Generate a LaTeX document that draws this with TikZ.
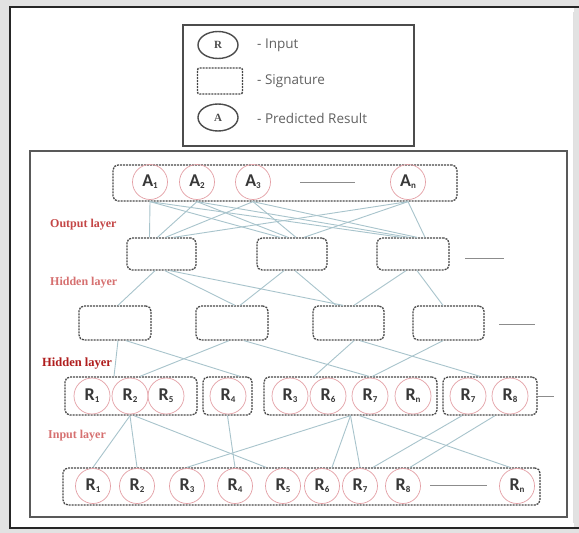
\documentclass[tikz,border=0pt]{standalone}
\usepackage{fontspec}
\setmainfont{Liberation Serif}
\setsansfont{Carlito}
\newfontfamily\keyfont{Open Sans}
\usetikzlibrary{calc,shapes.geometric}
\definecolor{linkc}{RGB}{168,196,204}
\definecolor{ringc}{RGB}{228,160,166}
\definecolor{labred}{RGB}{196,70,70}
\definecolor{labpale}{RGB}{214,112,112}
\definecolor{labdark}{RGB}{176,30,30}
\definecolor{frameg}{RGB}{226,226,226}
\newcommand{\lowidx}[1]{\raisebox{-0.25ex}{\fontsize{9}{9}\selectfont #1}}
\begin{document}
\begin{tikzpicture}[x=1pt,y=-1pt,
  sig/.style={draw=black!72, line width=1.3pt, dash pattern=on 2pt off 1pt,
    rounded corners=5pt, inner sep=0pt, fill=white},
  unit/.style={circle, draw=ringc, line width=0.7pt, minimum size=35pt, inner sep=0pt,
    font=\sffamily\bfseries\fontsize{18}{18}\selectfont, text=black!78},
  link/.style={draw=linkc, line width=0.9pt},
  more/.style={draw=black!45, line width=0.8pt},
  layer/.style={font=\bfseries\fontsize{12}{12}\selectfont, anchor=west, inner sep=0pt},
  key/.style={ellipse, draw=black!70, line width=1.4pt, minimum width=40pt, minimum height=27pt,
    inner sep=0pt, font=\bfseries\fontsize{11}{11}\selectfont, text=black!70},
  keytext/.style={anchor=west, inner sep=0pt, font=\keyfont\fontsize{13.5}{13.5}\selectfont, text=black!62}]
\useasboundingbox (0,0) rectangle (579,533);
% page background and outer frame
\fill[frameg] (0,0) rectangle (579,533);
\fill[white] (10,7) rectangle (574,528);
\draw[black!85, line width=2pt] (579,7) -- (10,7) -- (10,528) -- (579,528);
\draw[black!12, line width=0.6pt] (573,12) -- (573,523);

% legend
\node[draw=black!70, line width=1.6pt, minimum width=231pt, minimum height=121pt, inner sep=0pt]
  (legend) at (298.5,85.5) {};
\node[key] (kR) at (218,45) {R};
\node[keytext] (kRt) at (257,45) {- Input};
\node[sig, line width=1.4pt, rounded corners=2pt, minimum width=45pt, minimum height=26pt] (kS) at (220,81) {};
\node[keytext] (kSt) at (257,81) {- Signature};
\node[key] (kA) at (218,117.5) {A};
\node[keytext] (kAt) at (257,118) {- Predicted Result};

% diagram frame
\node[draw=black!65, line width=1.4pt, minimum width=537pt, minimum height=366pt, inner sep=0pt]
  (net) at (298.5,334) {};

% signature boxes
\node[sig, minimum width=344pt, minimum height=36pt] (top) at (285,183) {};
\node[sig, minimum width=69pt, minimum height=32pt] (h1a) at (161.5,254) {};
\node[sig, minimum width=70pt, minimum height=32pt] (h1b) at (292,254) {};
\node[sig, minimum width=72pt, minimum height=32pt] (h1c) at (413,254) {};
\node[sig, minimum width=72pt, minimum height=34pt] (h2a) at (115,323) {};
\node[sig, minimum width=72pt, minimum height=34pt] (h2b) at (232,323) {};
\node[sig, minimum width=71pt, minimum height=34pt] (h2c) at (348.5,323) {};
\node[sig, minimum width=71pt, minimum height=34pt] (h2d) at (448.5,323) {};
\node[sig, minimum width=132pt, minimum height=38pt] (g1) at (131,396) {};
\node[sig, minimum width=49pt, minimum height=38pt] (g2) at (227.5,396) {};
\node[sig, minimum width=173pt, minimum height=38pt] (g3) at (350.5,396) {};
\node[sig, minimum width=94pt, minimum height=38pt] (g4) at (490,396) {};
\node[sig, minimum width=477pt, minimum height=37pt] (bot) at (301.5,486.5) {};

% predicted results
\node[unit] (A1) at (150,182) {A\lowidx{1}};
\node[unit] (A2) at (197,182) {A\lowidx{2}};
\node[unit] (A3) at (253,182) {A\lowidx{3}};
\node[unit] (An) at (408,182) {A\lowidx{n}};
\coordinate (topdotsL) at (300,182);
\coordinate (topdotsR) at (355,182);
\draw[more] (topdotsL) -- (topdotsR);

% grouped inputs
\node[unit, minimum size=36pt] (r1) at (92,396) {R\lowidx{1}};
\node[unit, minimum size=36pt] (r2) at (130,396) {R\lowidx{2}};
\node[unit, minimum size=36pt] (r5) at (166,396) {R\lowidx{5}};
\node[unit, minimum size=36pt] (r4) at (228,396) {R\lowidx{4}};
\node[unit, minimum size=36pt] (r3) at (290,396) {R\lowidx{3}};
\node[unit, minimum size=36pt] (r6) at (328,396) {R\lowidx{6}};
\node[unit, minimum size=36pt] (r7) at (370,396) {R\lowidx{7}};
\node[unit, minimum size=36pt] (rn) at (413,396) {R\lowidx{n}};
\node[unit, minimum size=36pt] (r7b) at (468,396) {R\lowidx{7}};
\node[unit, minimum size=36pt] (r8) at (510,396) {R\lowidx{8}};

% input row
\node[unit] (b1) at (93,486) {R\lowidx{1}};
\node[unit] (b2) at (137,486) {R\lowidx{2}};
\node[unit] (b3) at (187,486) {R\lowidx{3}};
\node[unit] (b4) at (235,486) {R\lowidx{4}};
\node[unit] (b5) at (283,486) {R\lowidx{5}};
\node[unit] (b6) at (322,486) {R\lowidx{6}};
\node[unit] (b7) at (360,486) {R\lowidx{7}};
\node[unit] (b8) at (403,486) {R\lowidx{8}};
\node[unit] (bn) at (517,486) {R\lowidx{n}};
\coordinate (botdotsL) at (430,485);
\coordinate (botdotsR) at (487,485);
\draw[more] (botdotsL) -- (botdotsR);

% continuation marks
\coordinate (h1more) at (465,258);
\draw[more] (h1more) -- ++(39,0);
\coordinate (h2more) at (499,324);
\draw[more] (h2more) -- ++(36,0);
\coordinate (gmore) at (g4.east);
\draw[more] (gmore) -- ++(16,0);

% output layer links
\foreach \a/\o in {A1/-12,A2/-4,A3/4,An/12}{
  \foreach \h in {h1a,h1b,h1c}{
    \draw[link] (\a |- top.south) -- ($(\h.north)+(\o,0)$);
  }
}
% hidden links
\draw[link] ($(h1a.south)+(-6.5,0)$) -- ($(h2a.north)+(3,0)$);
\draw[link] ($(h1a.south)+(3.5,0)$) -- ($(h2b.north)+(3,0)$);
\draw[link] ($(h1a.south)+(8.5,0)$) -- ($(h2c.north)+(-5.5,0)$);
\draw[link] ($(h1b.south)+(-8,0)$) -- ($(h2b.north)+(8,0)$);
\draw[link] ($(h1b.south)+(3,0)$) -- ($(h2c.north)+(-12.5,0)$);
\draw[link] ($(h1c.south)+(-7,0)$) -- ($(h2c.north)+(5.5,0)$);
\draw[link] ($(h1c.south)+(4,0)$) -- ($(h2d.north)+(-5.5,0)$);
% hidden to grouped inputs
\draw[link] ($(h2a.south)+(3,0)$) -- ($(g1.north)+(-17,0)$);
\draw[link] ($(h2a.south)+(11,0)$) -- ($(g2.north)+(12.5,0)$);
\draw[link] ($(h2b.south)+(-3,0)$) -- ($(g1.north)+(9,0)$);
\draw[link] ($(h2b.south)+(12,0)$) -- ($(g3.north)+(18.5,0)$);
\draw[link] ($(h2c.south)+(5.5,0)$) -- ($(g3.north)+(-36.5,0)$);
\draw[link] ($(h2c.south)+(11.5,0)$) -- ($(g4.north)+(-10,0)$);
\draw[link] ($(h2d.south)+(-5.5,0)$) -- ($(g3.north)+(22,0)$);
% grouped inputs to input row
\draw[link] (r2 |- g1.south) -- (b1 |- bot.north);
\draw[link] (r2 |- g1.south) -- (b2 |- bot.north);
\draw[link] ($(r2 |- g1.south)+(4,0)$) -- ($(b5 |- bot.north)+(-17,0)$);
\draw[link] (g2.south) -- (b4 |- bot.north);
\draw[link] (g3.south) -- (b3 |- bot.north);
\draw[link] (g3.south) -- ($(b6 |- bot.north)+(10,0)$);
\draw[link] (g3.south) -- (b7 |- bot.north);
\draw[link] ($(g3.south)+(9,0)$) -- ($(bn |- bot.north)+(-7,0)$);
\draw[link] ($(g4.south)+(-28,0)$) -- ($(b7 |- bot.north)+(13,0)$);
\draw[link] ($(g4.south)+(5,0)$) -- ($(b8 |- bot.north)+(7,0)$);

% layer names
\node[layer, text=labred] (lout) at (50,225) {Output layer};
\node[layer, text=labpale] (lh1) at (50,283) {Hidden layer};
\node[layer, text=labdark, font=\bfseries\fontsize{12.5}{13}\selectfont] (lh2) at (42,364) {Hidden layer};
\node[layer, text=labpale] (lin) at (48,436) {Input layer};
\end{tikzpicture}
\end{document}
